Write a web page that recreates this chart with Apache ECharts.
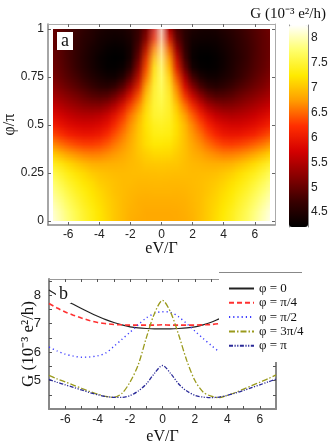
<!DOCTYPE html>
<html>
<head>
<meta charset="utf-8">
<script src="https://cdn.jsdelivr.net/npm/echarts@6/dist/echarts.min.js"></script>
<style>
  html, body { margin: 0; padding: 0; background: #fff; }
  #wrap { position: relative; width: 332px; height: 443px; }
  /* map panel: tiny heatmap (1px per cell) scaled up so the browser smooths it */
  #mapClip { position: absolute; left: 53px; top: 29px; width: 217px; height: 192px; overflow: hidden; }
  #map { position: absolute; left: -3.875px; top: -4.8px; width: 29px; height: 21px;
         transform-origin: 0 0; transform: scale(7.75, 9.6); }
  #main { position: absolute; left: 0; top: 0; width: 332px; height: 443px; }
</style>
</head>
<body>
<div id="wrap">
  <div id="mapClip"><div id="map"></div></div>
  <div id="main"></div>
</div>
<script>
// eV/Γ sample points (shared by curves and map columns)
var eV = [-7, -6.5, -6, -5.5, -5, -4.5, -4, -3.5, -3, -2.5, -2, -1.5, -1, -0.5, 0,
          0.5, 1, 1.5, 2, 2.5, 3, 3.5, 4, 4.5, 5, 5.5, 6, 6.5, 7]
var phi = [0, 0.05, 0.1, 0.15, 0.2, 0.25, 0.3, 0.35, 0.4, 0.45, 0.5,
           0.55, 0.6, 0.65, 0.7, 0.75, 0.8, 0.85, 0.9, 0.95, 1]

// panel b curves, G in 10^-3 e^2/h
var g0   = [8.18, 8.00, 7.84, 7.68, 7.53, 7.39, 7.26, 7.14, 7.04, 6.96, 6.89, 6.85, 6.83, 6.82, 6.82,
            6.82, 6.83, 6.85, 6.89, 6.96, 7.05, 7.17, 7.28, 7.40, 7.54, 7.68, 7.84, 8.00, 8.18]
var gQ   = [7.71, 7.55, 7.41, 7.30, 7.20, 7.11, 7.04, 7.00, 6.97, 6.96, 6.95, 6.95, 6.95, 6.95, 6.96,
            6.95, 6.95, 6.95, 6.95, 6.96, 6.97, 7.00, 7.04, 7.11, 7.20, 7.30, 7.41, 7.55, 7.71]
var gH   = [6.18, 6.04, 5.93, 5.86, 5.82, 5.83, 5.87, 5.97, 6.20, 6.45, 6.70, 6.96, 7.20, 7.36, 7.42,
            7.40, 7.24, 7.00, 6.74, 6.48, 6.24, 6.02, 5.90, 5.84, 5.82, 5.86, 5.93, 6.04, 6.18]
var g3Q  = [5.18, 5.06, 4.95, 4.84, 4.73, 4.62, 4.52, 4.44, 4.41, 4.55, 4.95, 5.55, 6.50, 7.35, 7.82,
            7.40, 6.60, 5.70, 5.00, 4.60, 4.45, 4.40, 4.48, 4.58, 4.70, 4.82, 4.94, 5.06, 5.20]
var gP   = [5.04, 4.94, 4.85, 4.76, 4.67, 4.58, 4.50, 4.44, 4.41, 4.41, 4.47, 4.63, 4.88, 5.25, 5.53,
            5.25, 4.88, 4.63, 4.48, 4.42, 4.40, 4.42, 4.48, 4.56, 4.65, 4.75, 4.85, 4.95, 5.05]

// panel a map rows, bottom (phi = 0) to top (phi = pi)
var mapRows = [
  g0,
  [8.15, 7.97, 7.81, 7.65, 7.51, 7.37, 7.25, 7.13, 7.04, 6.96, 6.89, 6.86, 6.84, 6.83, 6.83, 6.83, 6.84, 6.86, 6.89, 6.96, 7.04, 7.13, 7.25, 7.37, 7.51, 7.65, 7.81, 7.97, 8.15],
  [8.06, 7.89, 7.74, 7.59, 7.45, 7.32, 7.21, 7.11, 7.03, 6.96, 6.90, 6.87, 6.85, 6.85, 6.85, 6.85, 6.85, 6.87, 6.90, 6.96, 7.03, 7.11, 7.21, 7.32, 7.45, 7.59, 7.74, 7.89, 8.06],
  [7.95, 7.79, 7.64, 7.50, 7.37, 7.26, 7.16, 7.08, 7.01, 6.96, 6.92, 6.89, 6.88, 6.88, 6.88, 6.88, 6.88, 6.89, 6.92, 6.96, 7.01, 7.08, 7.16, 7.26, 7.37, 7.50, 7.64, 7.79, 7.95],
  [7.83, 7.67, 7.53, 7.40, 7.29, 7.19, 7.10, 7.04, 6.99, 6.96, 6.94, 6.92, 6.91, 6.92, 6.92, 6.92, 6.91, 6.92, 6.94, 6.96, 6.99, 7.04, 7.10, 7.19, 7.29, 7.40, 7.53, 7.67, 7.83],
  gQ,
  [7.52, 7.37, 7.24, 7.13, 7.04, 6.97, 6.93, 6.92, 6.92, 6.92, 6.94, 6.97, 6.99, 7.00, 7.00, 7.00, 6.99, 6.97, 6.94, 6.92, 6.92, 6.92, 6.93, 6.97, 7.04, 7.13, 7.24, 7.37, 7.52],
  [7.19, 7.05, 6.94, 6.84, 6.76, 6.70, 6.70, 6.74, 6.80, 6.85, 6.90, 6.99, 7.05, 7.10, 7.10, 7.10, 7.05, 6.99, 6.90, 6.85, 6.80, 6.74, 6.70, 6.70, 6.76, 6.84, 6.94, 7.05, 7.19],
  [6.81, 6.67, 6.56, 6.47, 6.40, 6.37, 6.40, 6.50, 6.62, 6.74, 6.85, 7.00, 7.12, 7.22, 7.22, 7.22, 7.12, 7.00, 6.85, 6.74, 6.62, 6.50, 6.40, 6.37, 6.40, 6.47, 6.56, 6.67, 6.81],
  [6.46, 6.32, 6.21, 6.13, 6.07, 6.06, 6.10, 6.25, 6.43, 6.62, 6.79, 7.00, 7.18, 7.32, 7.33, 7.32, 7.18, 7.00, 6.79, 6.62, 6.43, 6.25, 6.10, 6.06, 6.07, 6.13, 6.21, 6.32, 6.46],
  gH,
  [5.96, 5.84, 5.74, 5.65, 5.60, 5.60, 5.65, 5.78, 6.00, 6.28, 6.60, 6.90, 7.20, 7.46, 7.50, 7.46, 7.20, 6.90, 6.60, 6.28, 6.00, 5.78, 5.65, 5.60, 5.60, 5.65, 5.74, 5.84, 5.96],
  [5.72, 5.60, 5.50, 5.42, 5.35, 5.30, 5.32, 5.42, 5.62, 5.95, 6.35, 6.70, 7.12, 7.50, 7.58, 7.50, 7.12, 6.70, 6.35, 5.95, 5.62, 5.42, 5.32, 5.30, 5.35, 5.42, 5.50, 5.60, 5.72],
  [5.50, 5.38, 5.28, 5.20, 5.10, 5.02, 4.98, 5.02, 5.18, 5.50, 5.95, 6.40, 7.00, 7.50, 7.66, 7.50, 7.00, 6.40, 5.95, 5.50, 5.18, 5.02, 4.98, 5.02, 5.10, 5.20, 5.28, 5.38, 5.50],
  [5.33, 5.20, 5.10, 5.00, 4.90, 4.78, 4.70, 4.65, 4.75, 5.00, 5.45, 6.00, 6.80, 7.46, 7.74, 7.46, 6.80, 6.00, 5.45, 5.00, 4.75, 4.65, 4.70, 4.78, 4.90, 5.00, 5.10, 5.20, 5.33],
  g3Q,
  [5.10, 4.98, 4.87, 4.74, 4.62, 4.48, 4.36, 4.28, 4.26, 4.32, 4.50, 5.20, 6.20, 7.22, 7.90, 7.22, 6.20, 5.20, 4.50, 4.32, 4.26, 4.28, 4.36, 4.48, 4.62, 4.74, 4.87, 4.98, 5.10],
  [5.06, 4.94, 4.83, 4.70, 4.57, 4.44, 4.32, 4.24, 4.22, 4.24, 4.32, 4.90, 6.00, 7.00, 7.98, 7.00, 6.00, 4.90, 4.32, 4.24, 4.22, 4.24, 4.32, 4.44, 4.57, 4.70, 4.83, 4.94, 5.06],
  [5.04, 4.93, 4.82, 4.70, 4.58, 4.46, 4.35, 4.27, 4.25, 4.26, 4.32, 4.75, 5.55, 6.70, 8.05, 6.70, 5.55, 4.75, 4.32, 4.26, 4.25, 4.27, 4.35, 4.46, 4.58, 4.70, 4.82, 4.93, 5.04],
  [5.04, 4.94, 4.83, 4.72, 4.61, 4.51, 4.42, 4.35, 4.33, 4.34, 4.40, 4.66, 5.15, 6.25, 8.12, 6.25, 5.15, 4.66, 4.40, 4.34, 4.33, 4.35, 4.42, 4.51, 4.61, 4.72, 4.83, 4.94, 5.04],
  [5.05, 4.95, 4.85, 4.75, 4.65, 4.56, 4.48, 4.42, 4.40, 4.42, 4.48, 4.63, 4.90, 5.60, 8.20, 5.60, 4.90, 4.63, 4.48, 4.42, 4.40, 4.42, 4.48, 4.56, 4.65, 4.75, 4.85, 4.95, 5.05]
]

// tick labels
var evTicks = [-6, -4, -2, 0, 2, 4, 6]
var evMinor = [-6, -5, -4, -3, -2, -1, 0, 1, 2, 3, 4, 5, 6]
var phiTicks = [0, 0.25, 0.5, 0.75, 1]
var cbTicks = [4.5, 5, 5.5, 6, 6.5, 7, 7.5, 8]
var gTicks = [5, 6, 7, 8]
var gMinor = [4.5, 5, 5.5, 6, 6.5, 7, 7.5, 8, 8.5]

var cbMin = 4.2
var cbMax = 8.26
var hotColors = ['#000000', '#380000', '#880000', '#d40000', '#ff2e00', '#ff9c00', '#ffea00', '#ffff6c', '#ffffff']

var SANS = '"Liberation Sans", Arial, sans-serif'
var SERIF = '"Liberation Serif", "Times New Roman", serif'

// ---- panel a map ----
var cells = []
for (var r = 0; r < mapRows.length; r++) {
  for (var c = 0; c < eV.length; c++) {
    cells.push([c, r, mapRows[r][c]])
  }
}
var mapChart = echarts.init(document.getElementById('map'), null, { devicePixelRatio: 1 })
mapChart.setOption({
  animation: false,
  grid: { left: 0, right: 0, top: 0, bottom: 0, containLabel: false, outerBoundsMode: 'none' },
  xAxis: { type: 'category', data: eV, show: false },
  yAxis: { type: 'category', data: phi, show: false },
  visualMap: { show: false, min: cbMin, max: cbMax, inRange: { color: hotColors } },
  series: [{ type: 'heatmap', data: cells, itemStyle: { borderWidth: 0 }, emphasis: { disabled: true } }]
})

// ---- everything else ----
function pairs(ys) {
  return eV.map(function (x, i) { return [x, ys[i]] })
}
var tickLabel = { fontFamily: SANS, fontSize: 12, color: '#222' }

var curves = [
  { name: 'φ = 0', data: g0, color: '#222222', dash: 'solid', width: 1.2 },
  { name: 'φ = π/4', data: gQ, color: '#ff3030', dash: [5, 3], width: 1.6 },
  { name: 'φ = π/2', data: gH, color: '#3c3cff', dash: [1.2, 3], width: 1.4 },
  { name: 'φ = 3π/4', data: g3Q, color: '#9a9a1c', dash: [6, 2, 1.5, 2], width: 1.3 },
  { name: 'φ = π', data: gP, color: '#2a2a98', dash: [4, 1.5, 1.2, 1.5, 1.2, 1.5], width: 1.3 }
]

var noBounds = { containLabel: false, outerBoundsMode: 'none' }

var chart = echarts.init(document.getElementById('main'), null, { devicePixelRatio: 1 })
chart.setOption({
  backgroundColor: 'transparent',
  animation: false,
  title: {
    text: 'G (10⁻³ e²/h)', right: 1, top: 2,
    textStyle: { fontFamily: SERIF, fontSize: 15, fontWeight: 'normal', color: '#111' }
  },
  grid: [
    Object.assign({ left: 48, top: 24, width: 227, height: 201 }, noBounds),
    Object.assign({ left: 289, top: 25, width: 19, height: 202 }, noBounds),
    Object.assign({ left: 49, top: 279, width: 227, height: 130 }, noBounds)
  ],
  visualMap: {
    type: 'continuous', seriesIndex: 99, min: cbMin, max: cbMax, calculable: false,
    orient: 'vertical', left: 289, top: 25, itemWidth: 19, itemHeight: 202, padding: 0,
    inRange: { color: hotColors }
  },
  xAxis: [
    { gridIndex: 0, type: 'value', min: -7.3, max: 7.3, position: 'bottom',
      name: 'eV/Γ', nameLocation: 'middle', nameGap: 16, nameMoveOverlap: false,
      nameTextStyle: { fontFamily: SERIF, fontSize: 16, color: '#111' },
      axisLine: { onZero: false, lineStyle: { color: '#888', width: 1.5 } },
      axisTick: { inside: true, length: 3, customValues: evTicks, lineStyle: { color: '#666' } },
      axisLabel: Object.assign({ customValues: evTicks, margin: 4 }, tickLabel),
      splitLine: { show: false } },
    { gridIndex: 0, type: 'value', min: -7.3, max: 7.3, position: 'top',
      axisLine: { onZero: false, lineStyle: { color: '#aaa', width: 1 } },
      axisTick: { inside: true, length: 3, customValues: evTicks, lineStyle: { color: '#666' } },
      axisLabel: { show: false }, splitLine: { show: false } },
    { gridIndex: 1, type: 'value', show: false },
    { gridIndex: 2, type: 'value', min: -7, max: 7, position: 'bottom',
      name: 'eV/Γ', nameLocation: 'middle', nameGap: 20, nameMoveOverlap: false,
      nameTextStyle: { fontFamily: SERIF, fontSize: 16, color: '#111' },
      axisLine: { onZero: false, lineStyle: { color: '#888', width: 2 } },
      axisTick: { inside: true, length: 3, customValues: evMinor, lineStyle: { color: '#555' } },
      axisLabel: Object.assign({ customValues: evTicks, margin: 5 }, tickLabel),
      splitLine: { show: false } },
    { gridIndex: 2, type: 'value', min: -7, max: 7, position: 'top',
      axisLine: { onZero: false, lineStyle: { color: '#999', width: 1 } },
      axisTick: { inside: true, length: 3, customValues: evMinor, lineStyle: { color: '#555' } },
      axisLabel: { show: false }, splitLine: { show: false } }
  ],
  yAxis: [
    { gridIndex: 0, type: 'value', min: -0.02, max: 1.025, position: 'left',
      name: 'φ/π', nameLocation: 'middle', nameGap: 30, nameMoveOverlap: false,
      nameTextStyle: { fontFamily: SERIF, fontSize: 16, color: '#111' },
      axisLine: { onZero: false, lineStyle: { color: '#888', width: 1.5 } },
      axisTick: { inside: true, length: 3, customValues: phiTicks, lineStyle: { color: '#666' } },
      axisLabel: Object.assign({ customValues: phiTicks, margin: 4 }, tickLabel),
      splitLine: { show: false } },
    { gridIndex: 0, type: 'value', min: -0.02, max: 1.025, position: 'right',
      axisLine: { onZero: false, lineStyle: { color: '#aaa', width: 1 } },
      axisTick: { inside: true, length: 3, customValues: phiTicks, lineStyle: { color: '#666' } },
      axisLabel: { show: false }, splitLine: { show: false } },
    { gridIndex: 1, type: 'value', min: cbMin, max: cbMax, position: 'right',
      axisLine: { onZero: false, lineStyle: { color: '#888', width: 1 } },
      axisTick: { inside: true, length: 3, customValues: cbTicks, lineStyle: { color: '#666' } },
      axisLabel: Object.assign({ customValues: cbTicks, margin: 3 }, tickLabel),
      splitLine: { show: false } },
    { gridIndex: 1, type: 'value', min: cbMin, max: cbMax, position: 'left',
      axisLine: { onZero: false, lineStyle: { color: '#888', width: 1 } },
      axisTick: { show: false }, axisLabel: { show: false }, splitLine: { show: false } },
    { gridIndex: 2, type: 'value', min: 4, max: 8.57, position: 'left',
      name: 'G (10⁻³ e²/h)', nameLocation: 'middle', nameGap: 12, nameMoveOverlap: false,
      nameTextStyle: { fontFamily: SERIF, fontSize: 17, color: '#111' },
      axisLine: { onZero: false, lineStyle: { color: '#888', width: 2 } },
      axisTick: { inside: true, length: 3, customValues: gMinor, lineStyle: { color: '#555' } },
      axisLabel: Object.assign({ customValues: gTicks, margin: 8 }, tickLabel, { fontSize: 13 }),
      splitLine: { show: false } },
    { gridIndex: 2, type: 'value', min: 4, max: 8.57, position: 'right',
      axisLine: { onZero: false, lineStyle: { color: '#888', width: 2 } },
      axisTick: { inside: true, length: 3, customValues: gMinor, lineStyle: { color: '#555' } },
      axisLabel: { show: false }, splitLine: { show: false } }
  ],
  legend: {
    orient: 'vertical', left: 228, top: 282, padding: 0, z: 60,
    itemWidth: 25, itemHeight: 8, itemGap: 1.3,
    itemStyle: { opacity: 0, borderWidth: 0 },
    textStyle: { fontFamily: SERIF, fontSize: 13, color: '#111' },
    data: curves.map(function (c) { return c.name })
  },
  graphic: [
    // legend box hides the upper right of panel b
    { type: 'rect', z: 50, shape: { x: 219, y: 272, width: 113, height: 90 }, style: { fill: '#fff' } },
    { type: 'line', z: 51, shape: { x1: 219, y1: 272.5, x2: 302, y2: 272.5 }, style: { stroke: '#888', lineWidth: 1 } },
    { type: 'text', z: 52, x: 57, y: 32,
      style: { text: 'a', font: '18px ' + SERIF, fill: '#111', backgroundColor: '#fff', padding: [0, 4, 0, 4] } },
    { type: 'text', z: 52, x: 56, y: 285,
      style: { text: 'b', font: '18px ' + SERIF, fill: '#111', backgroundColor: '#fff', padding: [0, 3, 0, 3] } }
  ],
  series: curves.map(function (c) {
    return {
      name: c.name, type: 'line', xAxisIndex: 3, yAxisIndex: 4,
      data: pairs(c.data), symbol: 'none', smooth: 0.3, clip: true,
      itemStyle: { color: c.color },
      lineStyle: { color: c.color, type: c.dash, width: c.width }
    }
  })
})
</script>
</body>
</html>
